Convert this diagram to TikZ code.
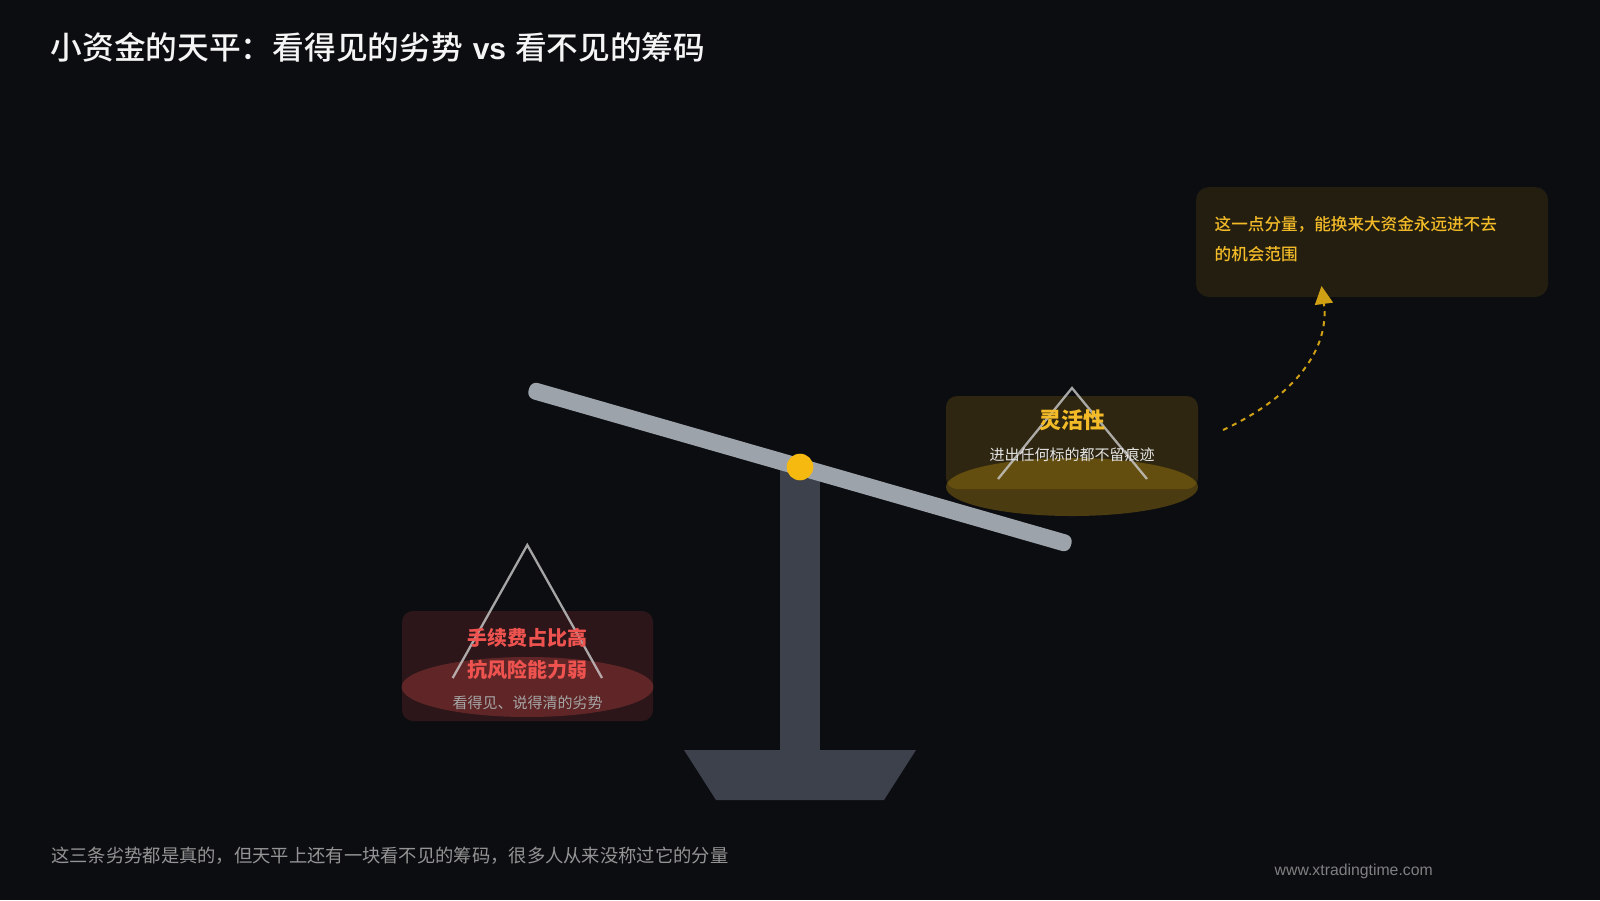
\documentclass[tikz,border=0pt]{standalone}
\usepackage{fontspec}
\usetikzlibrary{arrows.meta}
\setmainfont{Noto Sans CJK SC}
\newfontfamily\mediumface{Noto Sans CJK SC Medium}
\newfontfamily\latinface{Liberation Sans}
\definecolor{pagebg}{HTML}{0C0D11}
\definecolor{standgray}{HTML}{3D414C}
\definecolor{beamgray}{HTML}{9CA3AB}
\definecolor{goldtone}{HTML}{F5B90F}
\definecolor{goldtext}{HTML}{F3BB28}
\definecolor{redtone}{HTML}{EF5350}
\definecolor{arrowgold}{HTML}{CFA014}
\tikzset{
  x=1pt,y=-1pt,
  panlabel/.style={inner sep=0pt,align=center,anchor=center},
  hanger/.style={draw=white!80!black,draw opacity=.8,line width=2.3pt,line join=miter},
  titletext/.style={inner sep=0pt,anchor=west,text=white!96!black,font=\mediumface\fontsize{31.7}{38}\selectfont},
}
\begin{document}
\begin{tikzpicture}
% page
\useasboundingbox (0,0) rectangle (1600,900);
\fill[pagebg] (0,0) rectangle (1600,900);
\node[titletext] (heading) at (50.5,47.5) {小资金的天平：看得见的劣势\hspace{10pt}{\latinface\bfseries\fontsize{30}{38}\selectfont vs}\hspace{9pt}看不见的筹码};

% stand
\fill[standgray] (780,467) rectangle (820,752);
\fill[standgray] (684,750) -- (916,750) -- (884,800) -- (716,800) -- cycle;

% beam and pivot
\fill[beamgray,rounded corners=7pt,rotate around={-16:(800,467)}] (518,458.5) rectangle (1082,475.5);
\fill[goldtone] (800,467) circle[radius=13.3];

% left pan
\fill[redtone,fill opacity=.14,rounded corners=11pt] (402,611) rectangle (653,721);
\fill[redtone,fill opacity=.27] (527.5,687) ellipse[x radius=126,y radius=30];
\draw[hanger] (452.7,678) -- (527.3,545) -- (602,678);
\node[panlabel,text=redtone,font=\fontsize{20}{24}\selectfont\bfseries] (costs) at (527.5,638) {手续费占比高};
\node[panlabel,text=redtone,font=\fontsize{20}{24}\selectfont\bfseries] (risk) at (527.5,670) {抗风险能力弱};
\node[panlabel,text=white!65!black,font=\fontsize{15}{18}\selectfont] (seen) at (527.5,703) {看得见、说得清的劣势};

% right pan
\fill[goldtone,fill opacity=.15,rounded corners=11pt] (946,396) rectangle (1198,489);
\fill[goldtone,fill opacity=.27] (1072,487) ellipse[x radius=126,y radius=29];
\draw[hanger] (998,479) -- (1072,388) -- (1147,479);
\node[panlabel,text=goldtext,font=\fontsize{22}{26}\selectfont\bfseries] (agile) at (1072,420) {灵活性};
\node[panlabel,text=white!90!black,font=\fontsize{15}{18}\selectfont] (traces) at (1072,455) {进出任何标的都不留痕迹};

% callout
\fill[goldtone,fill opacity=.10,rounded corners=13pt] (1196,187) rectangle (1548,297);
\node[inner sep=0pt,anchor=west,text=goldtext,font=\mediumface\fontsize{16.6}{30}\selectfont] (noteone) at (1214.5,224.5) {这一点分量，能换来大资金永远进不去};
\node[inner sep=0pt,anchor=west,text=goldtext,font=\mediumface\fontsize{16.6}{30}\selectfont] (notetwo) at (1214.5,254) {的机会范围};

% dashed link up to the callout
\coordinate (linkstart) at (1223,430);
\coordinate (linkend) at (1321.5,286);
\draw[arrowgold,line width=2pt,dash pattern=on 5pt off 5pt,-{Triangle[length=18pt,width=18pt]}]
  (linkstart) .. controls (1297,395.3) and (1329.8,347.3) .. (linkend);

% footer
\node[inner sep=0pt,anchor=west,text=white!58!black,font=\fontsize{18.3}{22}\selectfont] (caption) at (51,855.5) {这三条劣势都是真的，但天平上还有一块看不见的筹码，很多人从来没称过它的分量};
\node[inner sep=0pt,anchor=west,text=white!50!black,font=\latinface\fontsize{15.8}{18}\selectfont] (site) at (1274.5,871) {www.xtradingtime.com};
\end{tikzpicture}
\end{document}
